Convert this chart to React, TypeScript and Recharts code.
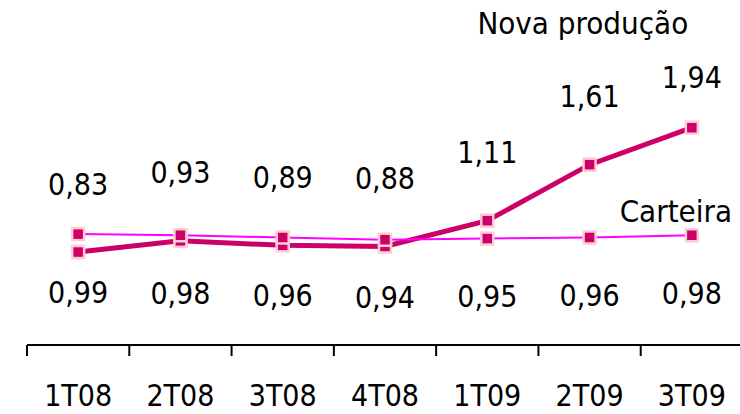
import React from 'react'
import { LineChart, Line, XAxis, YAxis, LabelList } from 'recharts'

const categories = ['1T08', '2T08', '3T08', '4T08', '1T09', '2T09', '3T09']
const novaProducao = [0.83, 0.93, 0.89, 0.88, 1.11, 1.61, 1.94]
const carteira = [0.99, 0.98, 0.96, 0.94, 0.95, 0.96, 0.98]

const NOVA_NAME = 'Nova produção'
const CARTEIRA_NAME = 'Carteira'

const data = categories.map((cat, i) => ({
  cat,
  nova: novaProducao[i],
  carteira: carteira[i],
}))

const CHART_W = 760
const CHART_H = 414
const MARGIN = { top: 9, right: 17, bottom: 0, left: 27 }
const BAND = (CHART_W - MARGIN.left - MARGIN.right) / categories.length
const TICK_SIZE = 11
const TICK_MARGIN = 29

const FONT = '"DejaVu Sans Condensed", "DejaVu Sans", sans-serif'
const DARK = '#cc0066'
const BRIGHT = '#ff00ff'

const fmt = (v: number) => v.toFixed(2).replace('.', ',')

const SquareDot = (props: any) => {
  const { cx, cy, index, dataKey } = props
  if (cx == null || cy == null) return null
  return (
    <rect
      key={`${dataKey}-${index}`}
      x={cx - 6}
      y={cy - 6}
      width={12}
      height={12}
      fill={DARK}
      stroke="#ffccd5"
      strokeWidth={2.5}
    />
  )
}

const NovaLabel = (props: any) => {
  const { x, y, value, index } = props
  const last = index === categories.length - 1
  return (
    <g>
      <text x={x} y={y - (last ? 50 : 68)} textAnchor="middle" dominantBaseline="central"
        fontFamily={FONT} fontSize={30} fill="#000">
        {fmt(value)}
      </text>
      {last && (
        <text x={x - 109} y={y - 94} textAnchor="middle" fontFamily={FONT} fontSize={31} fill="#000">
          {NOVA_NAME}
        </text>
      )}
    </g>
  )
}

const CarteiraLabel = (props: any) => {
  const { x, y, value, index } = props
  const last = index === categories.length - 1
  return (
    <g>
      <text x={x} y={y + 58} textAnchor="middle" dominantBaseline="central"
        fontFamily={FONT} fontSize={30} fill="#000">
        {fmt(value)}
      </text>
      {last && (
        <text x={x - 16} y={y - 13} textAnchor="middle" fontFamily={FONT} fontSize={31} fill="#000">
          {CARTEIRA_NAME}
        </text>
      )}
    </g>
  )
}

const CategoryTick = (props: any) => {
  const { x, y, payload, index } = props
  const axisY = y - TICK_SIZE - TICK_MARGIN
  const half = BAND / 2
  return (
    <g>
      <line x1={x - half} y1={axisY} x2={x - half} y2={axisY + TICK_SIZE} stroke="#000" strokeWidth={2} />
      {index === categories.length - 1 && (
        <line x1={x + half} y1={axisY} x2={x + half} y2={axisY + TICK_SIZE} stroke="#000" strokeWidth={2} />
      )}
      <text x={x} y={y} dy="0.71em" textAnchor="middle" fontFamily={FONT} fontSize={30} fill="#000">
        {payload.value}
      </text>
    </g>
  )
}

export default function App() {
  return (
    <div style={{ position: 'absolute', left: 0, top: 0, width: 740, height: 414, overflow: 'hidden', background: '#fff' }}>
      <LineChart width={CHART_W} height={CHART_H} data={data} margin={MARGIN}>
        <XAxis
          dataKey="cat"
          scale="band"
          height={69}
          tickLine={false}
          tickSize={TICK_SIZE}
          tickMargin={TICK_MARGIN}
          axisLine={{ stroke: '#000', strokeWidth: 2 }}
          tick={CategoryTick}
          interval={0}
        />
        <YAxis hide domain={[0, 3]} />
        <Line
          dataKey="nova"
          stroke={DARK}
          strokeWidth={5}
          dot={SquareDot}
          activeDot={false}
          isAnimationActive={false}
        >
          <LabelList dataKey="nova" content={NovaLabel} />
        </Line>
        <Line
          dataKey="carteira"
          stroke={BRIGHT}
          strokeWidth={2}
          dot={SquareDot}
          activeDot={false}
          isAnimationActive={false}
        >
          <LabelList dataKey="carteira" content={CarteiraLabel} />
        </Line>
      </LineChart>
    </div>
  )
}
